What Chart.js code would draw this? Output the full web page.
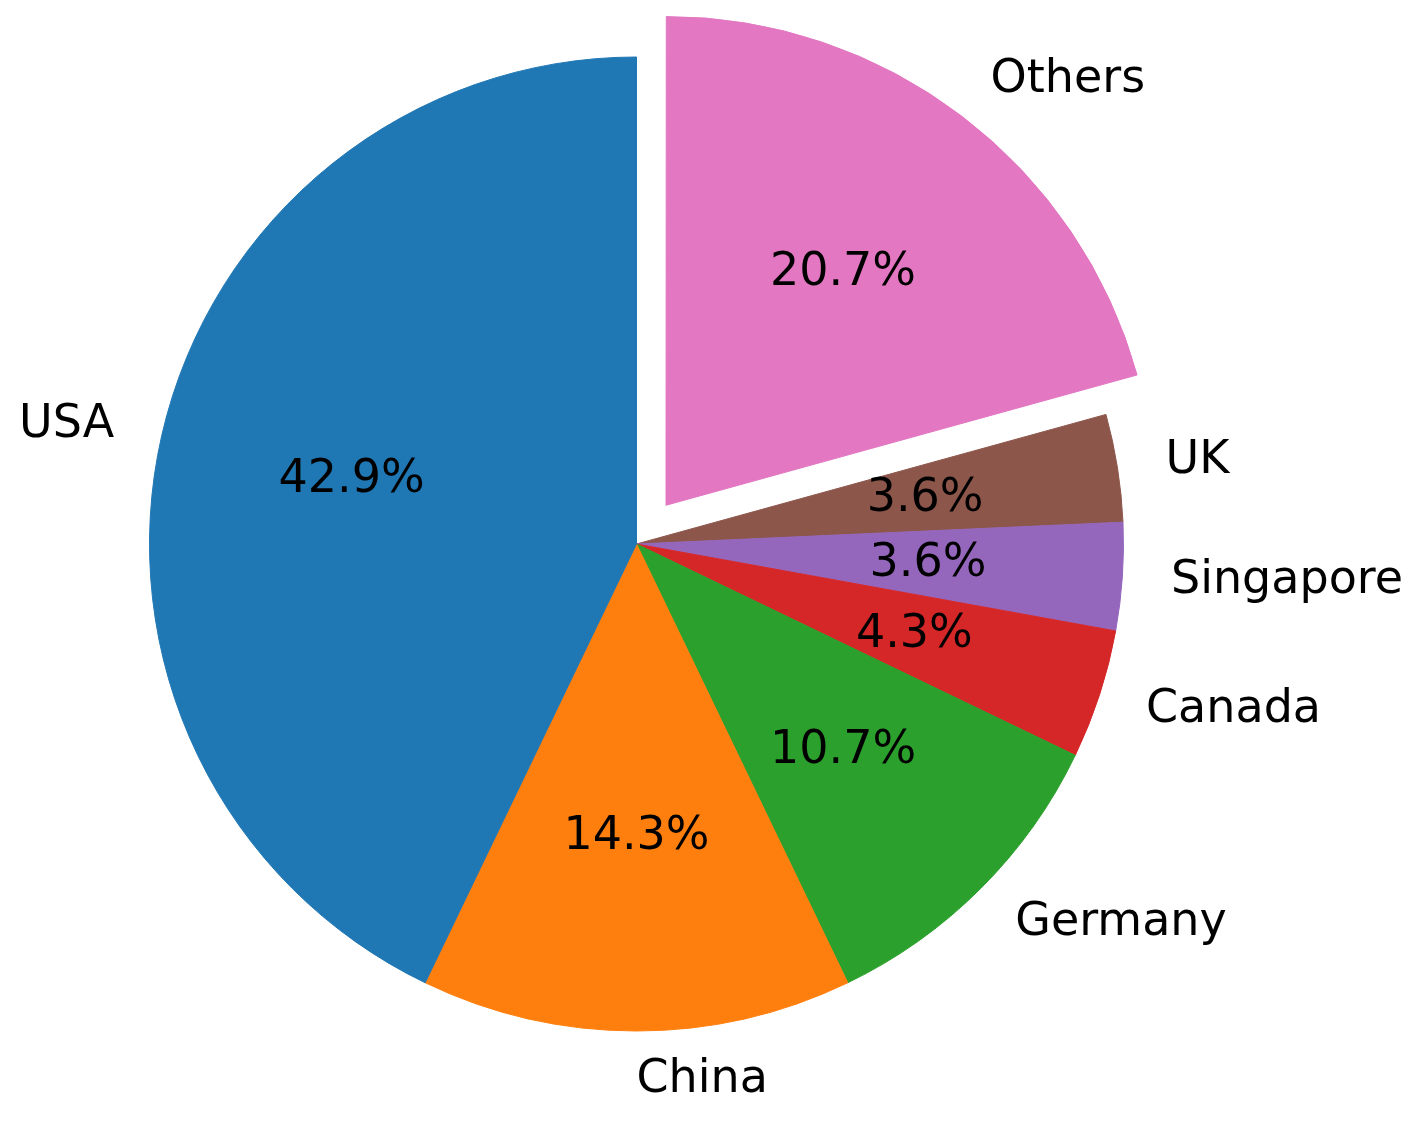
<!DOCTYPE html>
<html>
<head>
<meta charset="utf-8">
<script src="https://cdn.jsdelivr.net/npm/chart.js@4/dist/chart.umd.min.js"></script>
<style>
  html, body { margin: 0; padding: 0; background: #ffffff; }
  #wrap { width: 1417px; height: 1125px; position: relative; }
</style>
</head>
<body>
<div id="wrap"><canvas id="c"></canvas></div>
<script>
// Data (matplotlib order: counterclockwise from top)
const categories = ['USA', 'China', 'Germany', 'Canada', 'Singapore', 'UK', 'Others'];
const values = [30, 10, 7.5, 3, 2.5, 2.5, 14.5];
const explode = [0, 0, 0, 0, 0, 0, 0.1];
const colors = ['#1f77b4', '#ff7f0e', '#2ca02c', '#d62728', '#9467bd', '#8c564b', '#e377c2'];

const RADIUS = 487;
const FONT_SIZE = 46;
const FONT = FONT_SIZE + 'px "DejaVu Sans"';

// Chart.js draws clockwise, matplotlib counterclockwise: reverse order.
const rev = a => a.slice().reverse();
const cLabels = rev(categories);
const cValues = rev(values);
const cColors = rev(colors);
const cOffsets = rev(explode).map(e => e * RADIUS * 4); // ArcElement translates by offset/4

const total = values.reduce((a, b) => a + b, 0);

const labelPlugin = {
  id: 'pieLabels',
  afterDatasetsDraw(chart) {
    const ctx = chart.ctx;
    const meta = chart.getDatasetMeta(0);
    ctx.save();
    ctx.font = FONT;
    ctx.fillStyle = '#000000';
    ctx.textBaseline = 'alphabetic';
    meta.data.forEach((el, i) => {
      const mid = (el.startAngle + el.endAngle) / 2;
      const shift = (el.options.offset || 0) / 4;
      const R = el.outerRadius;
      const cx = el.x + Math.cos(mid) * shift;
      const cy = el.y + Math.sin(mid) * shift;
      const baseAdj = 0.276 * FONT_SIZE;
      // category label at 1.1 R
      const lx = cx + Math.cos(mid) * R * 1.1;
      const ly = cy + Math.sin(mid) * R * 1.1;
      ctx.textAlign = Math.cos(mid) * R * 1.1 + Math.cos(mid) * shift > 0 ? 'left' : 'right';
      ctx.fillText(chart.data.labels[i], lx, ly + baseAdj);
      // percentage at 0.6 R
      const px = cx + Math.cos(mid) * R * 0.6;
      const py = cy + Math.sin(mid) * R * 0.6;
      ctx.textAlign = 'center';
      const pct = (chart.data.datasets[0].data[i] / total * 100).toFixed(1) + '%';
      ctx.fillText(pct, px, py + baseAdj);
    });
    ctx.restore();
  }
};

new Chart(document.getElementById('c'), {
  type: 'pie',
  data: {
    labels: cLabels,
    datasets: [{
      data: cValues,
      backgroundColor: cColors,
      borderColor: cColors,
      borderWidth: 1,
      offset: cOffsets,
      hoverOffset: 0
    }]
  },
  options: {
    responsive: true,
    maintainAspectRatio: false,
    animation: false,
    radius: RADIUS,
    rotation: 0,
    layout: { padding: { left: 0, right: 144, top: 0, bottom: 37 } },
    plugins: {
      legend: { display: false },
      tooltip: { enabled: false }
    },
    events: []
  },
  plugins: [labelPlugin]
});
</script>
</body>
</html>
